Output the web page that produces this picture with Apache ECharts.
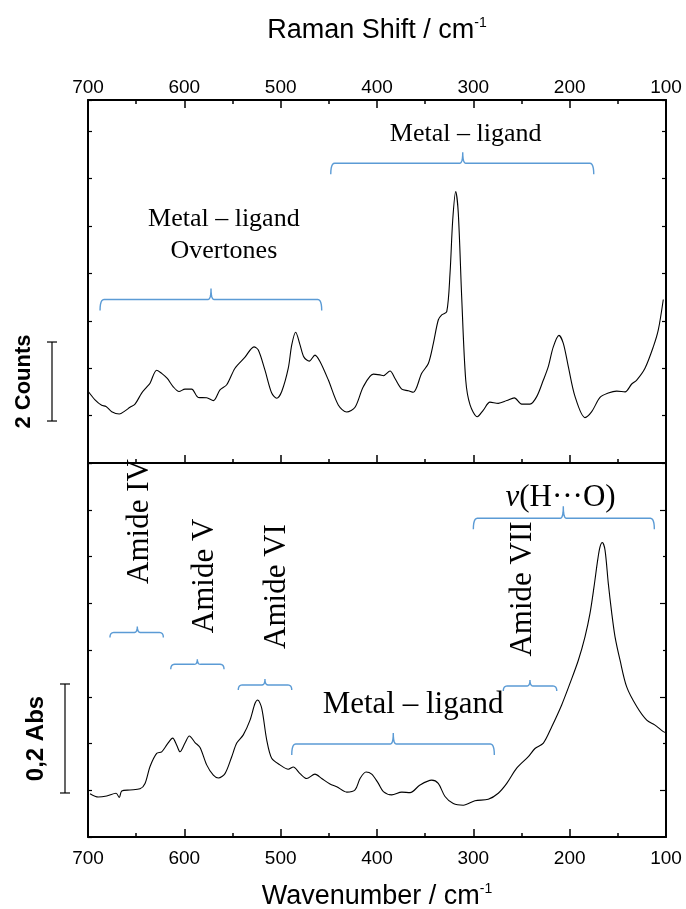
<!DOCTYPE html>
<html>
<head>
<meta charset="utf-8">
<script src="https://cdn.jsdelivr.net/npm/echarts@6/dist/echarts.min.js"></script>
<style>
html,body{margin:0;padding:0;background:#fff;}
#c{width:686px;height:909px;}
</style>
</head>
<body>
<div id="c"></div>
<script>
// ---------------- DATA ----------------
// Raman spectrum: [Raman shift (cm-1), intensity (counts, arbitrary offset)]
const ramanSpectrum = [
 [699.7,1.81],[692.7,1.60],[685.8,1.46],[681.3,1.43],[675.4,1.30],[667.5,1.24],[661.6,1.32],[656.4,1.41],
 [651.2,1.49],[644.3,1.77],[639.1,1.92],[635.6,2.02],[628.7,2.35],[623.5,2.27],[617.7,2.14],[611.5,1.93],
 [605.5,1.81],[599.3,1.87],[592.4,1.87],[585.5,1.66],[576.8,1.65],[569.9,1.58],[563.0,1.85],[556.0,1.98],
 [547.4,2.40],[537.0,2.68],[527.7,2.94],[523.2,2.86],[516.3,2.35],[509.3,1.77],[504.1,1.64],[498.9,1.81],
 [492.1,2.40],[488.5,2.99],[484.4,3.31],[479.9,2.99],[475.8,2.68],[470.3,2.58],[464.4,2.73],[459.2,2.57],
 [450.5,2.10],[440.2,1.47],[431.4,1.29],[422.8,1.41],[414.2,1.93],[403.8,2.25],[396.9,2.23],[393.4,2.21],
 [386.5,2.33],[381.3,2.14],[374.3,1.87],[367.5,1.83],[362.3,1.79],[353.6,2.27],[346.7,2.52],[341.5,3.03],
 [336.4,3.62],[332.8,3.75],[327.6,3.83],[324.2,4.80],[321.4,6.15],[318.3,6.87],[315.6,6.32],[312.1,4.21],
 [307.9,2.10],[303.4,1.47],[295.9,1.17],[289.6,1.34],[282.7,1.54],[274.1,1.51],[265.3,1.58],[257.5,1.65],
 [249.8,1.49],[241.2,1.49],[234.2,1.68],[227.3,2.10],[222.2,2.44],[217.0,2.94],[211.1,3.23],[206.6,3.03],
 [201.4,2.44],[194.4,1.68],[184.1,1.15],[177.1,1.30],[168.5,1.66],[159.9,1.77],[151.2,1.82],[142.5,1.80],
 [135.6,2.00],[130.4,2.10],[121.8,2.40],[113.2,2.94],[108.0,3.37],[102.8,4.14]
];
// IR spectrum: [wavenumber (cm-1), absorbance (arbitrary offset)]
const irSpectrum = [
 [697.9,0.061],[689.3,0.055],[680.6,0.057],[670.9,0.062],[667.5,0.054],[665.0,0.066],[656.4,0.068],[646.0,0.070],
 [640.8,0.080],[635.6,0.111],[628.7,0.135],[623.5,0.138],[617.7,0.152],[612.1,0.163],[607.9,0.150],[604.5,0.138],
 [599.3,0.154],[594.8,0.167],[588.9,0.155],[583.7,0.146],[576.8,0.114],[569.9,0.095],[564.7,0.090],[557.8,0.098],
 [550.8,0.129],[545.6,0.154],[538.8,0.169],[531.8,0.196],[526.6,0.227],[523.8,0.233],[519.7,0.218],[514.5,0.160],
 [509.3,0.126],[500.7,0.114],[492.1,0.106],[486.9,0.110],[479.9,0.098],[473.0,0.089],[464.4,0.097],[457.4,0.089],
 [448.8,0.079],[441.8,0.074],[431.4,0.064],[422.8,0.068],[417.6,0.089],[411.4,0.101],[405.5,0.097],[398.6,0.080],
 [393.4,0.065],[384.7,0.059],[374.3,0.064],[365.7,0.063],[355.4,0.077],[343.2,0.086],[336.4,0.080],[329.4,0.056],
 [320.8,0.043],[310.4,0.040],[298.3,0.048],[284.5,0.051],[274.1,0.062],[265.3,0.080],[255.0,0.108],[242.9,0.129],
 [236.0,0.144],[227.3,0.154],[218.6,0.184],[208.3,0.224],[199.6,0.264],[191.0,0.306],[184.1,0.349],[178.9,0.392],
 [174.7,0.441],[170.9,0.490],[168.5,0.514],[166.1,0.522],[163.3,0.508],[159.9,0.447],[156.3,0.392],[152.9,0.349],
 [147.7,0.306],[140.8,0.257],[130.4,0.221],[120.0,0.196],[111.4,0.187],[102.8,0.175],[100.0,0.173]
];
// Axis tick labels (cm-1)
const wavenumberTicks = [700, 600, 500, 400, 300, 200, 100];
// Band assignments
const bandLabels = ['Metal – ligand', 'Metal – ligand\nOvertones', 'Amide IV', 'Amide V', 'Amide VI', 'Metal – ligand', 'Amide VII', 'ν(H···O)'];
const bandFrom   = [448, 687.5, 677.2, 614.1, 544, 488.5, 268.9, 300];
const bandTo     = [175, 457.4, 621.8, 558.8, 488.5, 278.2, 213.4, 112.1];
const bandMid    = [311, 572.3, 648.8, 586.5, 516.3, 383.1, 241.2, 206.6];
const bandLevel  = [7.59, 4.14, 0.357, 0.2985, 0.2606, 0.1523, 0.2587, 0.5664];
const bandPanel  = [0, 0, 1, 1, 1, 1, 1, 1];
// Scale bars
const scaleBarLabels = ['2 Counts', '0,2 Abs'];
const scaleBarFrom = [1.063, 0.0624];
const scaleBarSize = [2, 0.2];

// ---------------- CHART ----------------
const chart = echarts.init(document.getElementById('c'), null, {renderer: 'canvas', width: 686, height: 909});
const SANS = '"Liberation Sans", Arial, sans-serif';
const SERIF = '"Liberation Serif", "Times New Roman", serif';
const BLUE = '#5B9BD5';

const topMin = 0, topMax = 9.19, topStep = 1.2;
const irMin = -0.01835, irMax = 0.6679, irStep = 0.08578;
const irTickVals = [];
for (let k = 0; k <= 8; k++) irTickVals.push(irMin + k * irStep);
const irMajor = irTickVals.filter((v, k) => k % 2 === 1);
const irMinor = irTickVals.filter((v, k) => k % 2 === 0 && k > 0 && k < 8);

const xMin = Math.min(...wavenumberTicks), xMax = Math.max(...wavenumberTicks);

function xAxis(grid, pos, showLabel, name, nameGap, margin, ticks) {
  return {
    type: 'value', gridIndex: grid, position: pos, min: xMin, max: xMax, interval: 100, inverse: true,
    axisLine: {show: true, onZero: false, lineStyle: {color: '#000', width: 2}},
    axisTick: {show: ticks, inside: true, length: 8, lineStyle: {color: '#000', width: 1.5}},
    minorTick: {show: ticks, splitNumber: 2, length: 4, lineStyle: {color: '#000', width: 1.5}},
    splitLine: {show: false}, minorSplitLine: {show: false},
    axisLabel: {show: showLabel, color: '#000', fontSize: 19, fontFamily: SANS, margin: margin},
    name: name, nameLocation: 'middle', nameGap: nameGap,
    nameTextStyle: {
      color: '#000', fontFamily: SANS,
      rich: {
        m: {fontSize: 27, fontFamily: SANS, color: '#000', lineHeight: 30},
        s: {fontSize: 14, fontFamily: SANS, color: '#000', lineHeight: 14, verticalAlign: 'top'}
      }
    }
  };
}
function yAxis(grid, pos, min, max, opts) {
  const a = {
    type: 'value', gridIndex: grid, position: pos, min: min, max: max,
    axisLine: {show: opts.line !== false, onZero: false, lineStyle: {color: '#000', width: 2}},
    axisTick: {show: true, inside: true, length: opts.len, lineStyle: {color: '#000', width: 1.2}},
    axisLabel: {show: false}, splitLine: {show: false}
  };
  if (opts.interval) a.interval = opts.interval;
  if (opts.custom) a.axisTick.customValues = opts.custom;
  return a;
}

chart.setOption({
  animation: false,
  backgroundColor: '#fff',
  textStyle: {fontFamily: SANS},
  grid: [
    {left: 88, right: 20, top: 100, height: 363, outerBoundsMode: 'none', containLabel: false},
    {left: 88, right: 20, top: 463, height: 374, outerBoundsMode: 'none', containLabel: false}
  ],
  xAxis: [
    xAxis(0, 'top', true, '{m|Raman Shift / cm}{s|-1}', 54, 3, true),
    xAxis(0, 'bottom', false, '', 0, 0, true),
    xAxis(1, 'bottom', true, '{m|Wavenumber / cm}{s|-1}', 45, 12, true),
    xAxis(1, 'top', false, '', 0, 0, false)
  ],
  yAxis: [
    yAxis(0, 'left', topMin, topMax, {len: 4, interval: topStep}),
    yAxis(0, 'right', topMin, topMax, {len: 4, interval: topStep}),
    yAxis(1, 'left', irMin, irMax, {len: 4, custom: irTickVals}),
    yAxis(1, 'right', irMin, irMax, {len: 6, custom: irMajor}),
    yAxis(1, 'right', irMin, irMax, {len: 3, custom: irMinor, line: false})
  ],
  series: [
    {type: 'line', xAxisIndex: 0, yAxisIndex: 0, data: ramanSpectrum, showSymbol: false, symbol: 'none',
     smooth: 0.3, lineStyle: {color: '#000', width: 1.1}, z: 3},
    {type: 'line', xAxisIndex: 2, yAxisIndex: 2, data: irSpectrum, showSymbol: false, symbol: 'none',
     smooth: 0.3, lineStyle: {color: '#000', width: 1.1}, z: 3}
  ]
});

// ---------------- ANNOTATIONS ----------------
function toPx(panel, v, y) {
  return chart.convertToPixel(panel === 0 ? {xAxisIndex: 0, yAxisIndex: 0} : {xAxisIndex: 2, yAxisIndex: 2}, [v, y]);
}
function quad(p0, p1, p2, n) {
  const out = [];
  for (let i = 1; i <= n; i++) {
    const t = i / n, u = 1 - t;
    out.push([u*u*p0[0] + 2*u*t*p1[0] + t*t*p2[0], u*u*p0[1] + 2*u*t*p1[1] + t*t*p2[1]]);
  }
  return out;
}
function brace(x1, x2, xm, yh, hook, cusp) {
  const r = 4;
  let pts = [[x1, yh + hook]];
  pts = pts.concat(quad([x1, yh + hook], [x1, yh], [x1 + r, yh], 6));
  pts.push([xm - 3, yh]);
  pts = pts.concat(quad([xm - 3, yh], [xm, yh], [xm, yh - cusp], 6));
  pts = pts.concat(quad([xm, yh - cusp], [xm, yh], [xm + 3, yh], 6));
  pts.push([x2 - r, yh]);
  pts = pts.concat(quad([x2 - r, yh], [x2, yh], [x2, yh + hook], 6));
  return pts;
}
const hookPx  = [11, 11, 5, 5, 5, 11, 5, 11];
const cuspPx  = [11, 11, 6, 5, 6, 11, 6, 12];
const labelPos = [[308, 8.33], [559, 5.77], [646, 0.5606], [578.5, 0.4606], [504.1, 0.4413], [362.6, 0.2239], [248.9, 0.4367], [209.5, 0.6046]];
const labelSize = [26, 26, 31, 31, 31, 31, 31, 31];
const labelRot  = [false, false, true, true, true, false, true, false];

const graphics = [];
for (let i = 0; i < bandLabels.length; i++) {
  const p = bandPanel[i];
  const a = toPx(p, bandFrom[i], bandLevel[i]);
  const b = toPx(p, bandTo[i], bandLevel[i]);
  const m = toPx(p, bandMid[i], bandLevel[i]);
  graphics.push({
    type: 'polyline', z: 50, silent: true,
    shape: {points: brace(a[0], b[0], m[0], a[1], hookPx[i], cuspPx[i])},
    style: {stroke: BLUE, lineWidth: 1.4, fill: null}
  });
  const c = toPx(p, labelPos[i][0], labelPos[i][1]);
  const isNu = bandLabels[i].charAt(0) === 'ν';
  graphics.push({
    type: 'text', z: 60, silent: true, x: c[0], y: c[1], rotation: labelRot[i] ? Math.PI / 2 : 0,
    style: {
      text: isNu ? '{i|ν}(H···O)' : bandLabels[i],
      fill: '#000', fontFamily: SERIF, fontSize: labelSize[i], lineHeight: labelSize[i] * 1.2,
      align: 'center', verticalAlign: 'middle',
      rich: isNu ? {i: {fontStyle: 'italic', fontFamily: SERIF, fontSize: labelSize[i], fill: '#000'}} : undefined
    }
  });
}
// scale bars
const barX = [52, 65], barTextX = [24, 36], barFont = [22, 24];
for (let j = 0; j < 2; j++) {
  const lo = toPx(j, 400, scaleBarFrom[j]);
  const hi = toPx(j, 400, scaleBarFrom[j] + scaleBarSize[j]);
  const x = barX[j];
  graphics.push({type: 'line', z: 50, silent: true, shape: {x1: x, y1: lo[1], x2: x, y2: hi[1]}, style: {stroke: '#000', lineWidth: 1.2}});
  graphics.push({type: 'line', z: 50, silent: true, shape: {x1: x - 5, y1: lo[1], x2: x + 5, y2: lo[1]}, style: {stroke: '#000', lineWidth: 1.2}});
  graphics.push({type: 'line', z: 50, silent: true, shape: {x1: x - 5, y1: hi[1], x2: x + 5, y2: hi[1]}, style: {stroke: '#000', lineWidth: 1.2}});
  graphics.push({
    type: 'text', z: 60, silent: true, x: barTextX[j], y: (lo[1] + hi[1]) / 2, rotation: Math.PI / 2,
    style: {text: scaleBarLabels[j], fill: '#000', fontFamily: SANS, fontWeight: 'bold', fontSize: barFont[j], align: 'center', verticalAlign: 'middle'}
  });
}
chart.setOption({graphic: graphics});
</script>
</body>
</html>
